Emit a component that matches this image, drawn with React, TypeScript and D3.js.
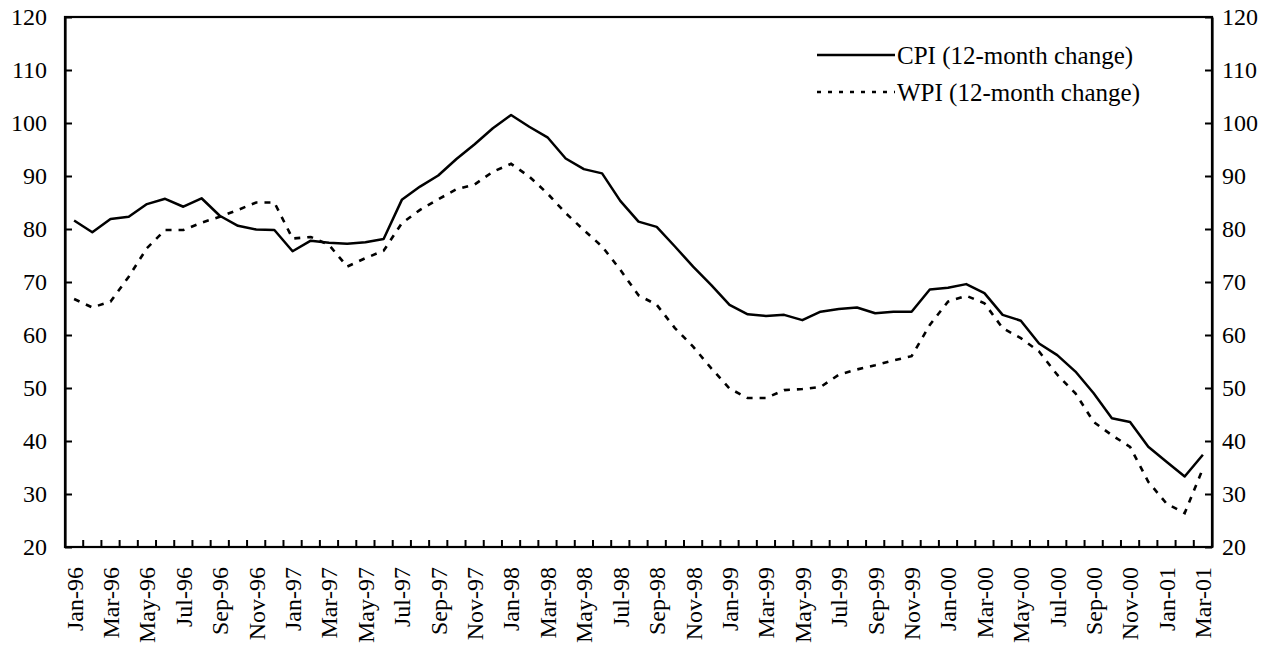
import { useEffect, useRef } from "react";
import * as d3 from "d3";

const monthNames = ["Jan", "Feb", "Mar", "Apr", "May", "Jun", "Jul", "Aug", "Sep", "Oct", "Nov", "Dec"];
const years = ["96", "97", "98", "99", "00", "01"];

// Jan-96 .. Mar-01
const months: string[] = years
  .flatMap((yr) => monthNames.map((m) => `${m}-${yr}`))
  .slice(0, 63);

const cpi = [
  81.6, 79.4, 81.9, 82.3, 84.7, 85.7, 84.2, 85.8, 82.5, 80.6, 79.9, 79.8,
  75.8, 77.8, 77.4, 77.2, 77.5, 78.1, 85.5, 88.0, 90.1, 93.2, 96.0, 99.0,
  101.5, 99.3, 97.3, 93.3, 91.3, 90.5, 85.3, 81.4, 80.4, 76.7, 72.9, 69.4,
  65.7, 63.9, 63.6, 63.8, 62.8, 64.4, 64.9, 65.2, 64.1, 64.4, 64.4, 68.6,
  68.9, 69.6, 67.9, 63.8, 62.7, 58.4, 56.2, 53.1, 49.0, 44.3, 43.6, 38.9,
  36.1, 33.3, 37.4,
];

const wpi = [
  66.8, 65.2, 66.3, 71.0, 76.4, 79.8, 79.8, 81.2, 82.3, 83.6, 85.0, 85.0,
  78.2, 78.5, 77.0, 72.9, 74.5, 75.9, 81.1, 83.6, 85.6, 87.5, 88.4, 90.8,
  92.3, 89.9, 86.7, 83.0, 79.8, 76.7, 72.3, 67.5, 65.7, 61.3, 57.8, 53.7,
  49.9, 48.1, 48.1, 49.6, 49.8, 50.2, 52.5, 53.5, 54.3, 55.2, 56.0, 61.9,
  66.3, 67.4, 66.0, 61.3, 59.4, 56.9, 52.5, 49.0, 43.6, 41.1, 38.9, 32.3,
  28.2, 26.4, 34.8,
];

const yTicks = [20, 30, 40, 50, 60, 70, 80, 90, 100, 110, 120];

const legendItems = [
  { label: "CPI (12-month change)", dash: null as string | null },
  { label: "WPI (12-month change)", dash: "4,7" },
];

const FONT = "Liberation Serif, Times New Roman, serif";

const App = () => {
  const chartRef = useRef<SVGSVGElement>(null);

  useEffect(() => {
    const width = 1279;
    const height = 650;
    const margin = { top: 17, right: 67, bottom: 103, left: 65 };

    const svg = d3.select(chartRef.current);
    svg.selectAll("*").remove();

    const x = d3
      .scaleBand<string>()
      .domain(months)
      .range([margin.left, width - margin.right])
      .padding(0);

    const y = d3
      .scaleLinear()
      .domain([20, 120])
      .range([height - margin.bottom, margin.top]);

    const cx = (i: number) => x(months[i])! + x.bandwidth() / 2;

    // frame
    svg
      .append("rect")
      .attr("x", margin.left)
      .attr("y", margin.top)
      .attr("width", width - margin.left - margin.right)
      .attr("height", height - margin.top - margin.bottom)
      .attr("fill", "none")
      .attr("stroke", "#000")
      .attr("stroke-width", 2.2);

    // left axis
    const left = svg
      .append("g")
      .attr("transform", `translate(${margin.left},0)`)
      .call(
        d3
          .axisLeft(y)
          .tickValues(yTicks)
          .tickSizeInner(-7)
          .tickSizeOuter(0)
          .tickPadding(18)
      );

    // right axis
    const right = svg
      .append("g")
      .attr("transform", `translate(${width - margin.right},0)`)
      .call(
        d3
          .axisRight(y)
          .tickValues(yTicks)
          .tickSizeInner(-7)
          .tickSizeOuter(0)
          .tickPadding(10)
      );

    [left, right].forEach((g) => {
      g.attr("font-family", FONT).attr("font-size", 24);
      g.select(".domain").attr("stroke-width", 2.2);
      g.selectAll(".tick line").attr("stroke-width", 2);
      g.selectAll("text").attr("fill", "#000");
    });

    // x ticks at month boundaries (pointing up)
    const bottom = height - margin.bottom;
    svg
      .append("g")
      .selectAll("line")
      .data(months)
      .enter()
      .append("line")
      .attr("x1", (d) => x(d)!)
      .attr("x2", (d) => x(d)!)
      .attr("y1", bottom)
      .attr("y2", bottom - 7)
      .attr("stroke", "#000")
      .attr("stroke-width", 2);

    // x labels, every other month, rotated
    svg
      .append("g")
      .attr("font-family", FONT)
      .attr("font-size", 24)
      .selectAll("text")
      .data(months.filter((_, i) => i % 2 === 0))
      .enter()
      .append("text")
      .attr("transform", (d) => `translate(${x(d)! + x.bandwidth() / 2},${bottom + 20}) rotate(-90)`)
      .attr("text-anchor", "end")
      .attr("dy", "0.35em")
      .attr("fill", "#000")
      .text((d) => d);

    const line = d3
      .line<number>()
      .x((_, i) => cx(i))
      .y((d) => y(d));

    svg
      .append("path")
      .datum(wpi)
      .attr("d", line)
      .attr("fill", "none")
      .attr("stroke", "#000")
      .attr("stroke-width", 2.6)
      .attr("stroke-dasharray", "6,7");

    svg
      .append("path")
      .datum(cpi)
      .attr("d", line)
      .attr("fill", "none")
      .attr("stroke", "#000")
      .attr("stroke-width", 2.5)
      .attr("stroke-linejoin", "round");

    // legend
    const legend = svg
      .append("g")
      .attr("transform", "translate(817,55)")
      .attr("font-family", FONT)
      .attr("font-size", 25);
    legendItems.forEach((item, i) => {
      const row = legend.append("g").attr("transform", `translate(0,${i * 37})`);
      row
        .append("line")
        .attr("x1", 0)
        .attr("x2", 78)
        .attr("y1", 0)
        .attr("y2", 0)
        .attr("stroke", "#000")
        .attr("stroke-width", 2.5)
        .attr("stroke-dasharray", item.dash);
      row
        .append("text")
        .attr("x", 80)
        .attr("dy", "0.35em")
        .attr("fill", "#000")
        .text(item.label);
    });
  }, []);

  return (
    <svg
      ref={chartRef}
      width={1279}
      height={650}
      style={{ position: "absolute", left: 0, top: 0, background: "#fff" }}
    />
  );
};

export default App;
